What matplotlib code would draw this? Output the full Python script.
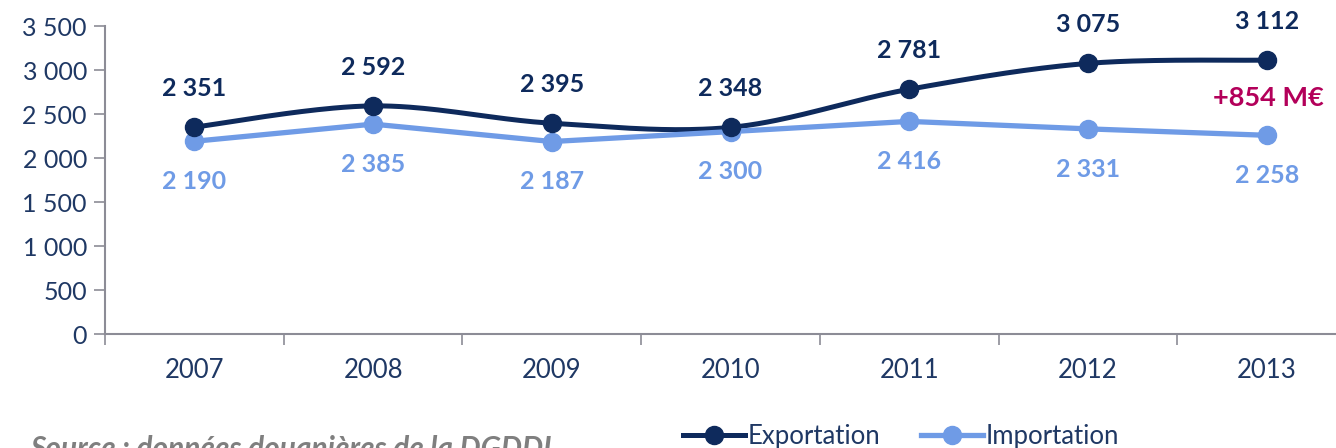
import matplotlib
matplotlib.use("Agg")
import matplotlib.pyplot as plt
import numpy as np
from matplotlib.ticker import FuncFormatter, FixedLocator

years = ["2007", "2008", "2009", "2010", "2011", "2012", "2013"]
exportation = [2351, 2592, 2395, 2348, 2781, 3075, 3112]
importation = [2190, 2385, 2187, 2300, 2416, 2331, 2258]
solde_label = "+854 M€"
source_text = "Source : données douanières de la DGDDI"

EXP_COLOR = "#0e2a5c"
IMP_COLOR = "#6f9be6"
TEXT_COLOR = "#1f3864"
AXIS_COLOR = "#8c8c96"
SOLDE_COLOR = "#b3005a"

plt.rcParams["font.family"] = ["Lato", "DejaVu Sans"]


def smooth(xs, ys, n=40):
    # Bezier smoothing like the spreadsheet "smoothed line" option
    xs = np.asarray(xs, float)
    ys = np.asarray(ys, float)
    px, py = [], []
    k = len(xs)
    for i in range(k - 1):
        x0, y0 = xs[max(i - 1, 0)], ys[max(i - 1, 0)]
        x1, y1 = xs[i], ys[i]
        x2, y2 = xs[i + 1], ys[i + 1]
        x3, y3 = xs[min(i + 2, k - 1)], ys[min(i + 2, k - 1)]
        c1 = (x1 + (x2 - x0) / 6, y1 + (y2 - y0) / 6)
        c2 = (x2 - (x3 - x1) / 6, y2 - (y3 - y1) / 6)
        t = np.linspace(0, 1, n)
        px.append((1 - t) ** 3 * x1 + 3 * (1 - t) ** 2 * t * c1[0]
                  + 3 * (1 - t) * t ** 2 * c2[0] + t ** 3 * x2)
        py.append((1 - t) ** 3 * y1 + 3 * (1 - t) ** 2 * t * c1[1]
                  + 3 * (1 - t) * t ** 2 * c2[1] + t ** 3 * y2)
    return np.concatenate(px), np.concatenate(py)


def fmt(v):
    return f"{int(v):,}".replace(",", " ")


fig = plt.figure(figsize=(13.36, 4.48), dpi=100)
ax = fig.add_axes([105 / 1336, 114 / 448, 1251 / 1336, 308 / 448])

x = np.arange(len(years))
sx, sy = smooth(x, exportation)
ax.plot(sx, sy, color=EXP_COLOR, lw=3.6, solid_capstyle="round", zorder=3)
ax.plot(x, exportation, "o", color=EXP_COLOR, ms=13, zorder=4)
ax.plot(x, importation, color=IMP_COLOR, lw=3.8, marker="o", ms=13, zorder=3)

for xi, v in zip(x, exportation):
    ax.annotate(fmt(v), (xi, v), xytext=(0, 28),
                textcoords="offset points", ha="center", va="center",
                fontsize=18, fontweight="bold", color=EXP_COLOR)
for xi, v in zip(x, importation):
    ax.annotate(fmt(v), (xi, v), xytext=(0, -29),
                textcoords="offset points", ha="center", va="center",
                fontsize=18, fontweight="bold", color=IMP_COLOR)

ax.annotate(solde_label, (x[-1], (exportation[-1] + importation[-1]) / 2),
            xytext=(1, 0), textcoords="offset points", ha="center", va="center",
            fontsize=19.5, fontweight="bold", color=SOLDE_COLOR)

ax.set_xlim(-0.5, len(years) - 0.5)
ax.set_ylim(0, 3500)
ax.yaxis.set_major_locator(FixedLocator(np.arange(0, 3501, 500)))
ax.yaxis.set_major_formatter(FuncFormatter(lambda v, p: fmt(v)))

ax.set_xticks(x)
ax.set_xticklabels(years)
ax.set_xticks(np.arange(-0.5, len(years), 1), minor=True)
ax.tick_params(axis="x", which="major", length=0, pad=17, labelsize=18.5, labelcolor=TEXT_COLOR)
ax.tick_params(axis="x", which="minor", length=8, width=1.2, color=AXIS_COLOR, direction="out")
ax.tick_params(axis="y", length=8, width=1.2, color=AXIS_COLOR, labelsize=18,
               labelcolor=TEXT_COLOR, pad=5)

for side in ["top", "right"]:
    ax.spines[side].set_visible(False)
for side in ["left", "bottom"]:
    ax.spines[side].set_color(AXIS_COLOR)
    ax.spines[side].set_linewidth(1.5)

h1, = ax.plot([], [], color=EXP_COLOR, lw=3.6, marker="o", ms=13)
h2, = ax.plot([], [], color=IMP_COLOR, lw=3.8, marker="o", ms=13)
leg = fig.legend([h1, h2], ["Exportation", "Importation"], ncol=2,
                 loc="center left", bbox_to_anchor=(683 / 1336, 12 / 448),
                 frameon=False, fontsize=18.5, handlelength=2.4, handletextpad=0.1,
                 columnspacing=1.6, borderaxespad=0, borderpad=0)
for t in leg.get_texts():
    t.set_color(TEXT_COLOR)

fig.text(30 / 1336, -1 / 448, source_text, ha="left", va="center",
         fontsize=21.5, fontstyle="italic", fontweight="bold", color="#7f7f7f")

fig.savefig("out.png", dpi=100)
